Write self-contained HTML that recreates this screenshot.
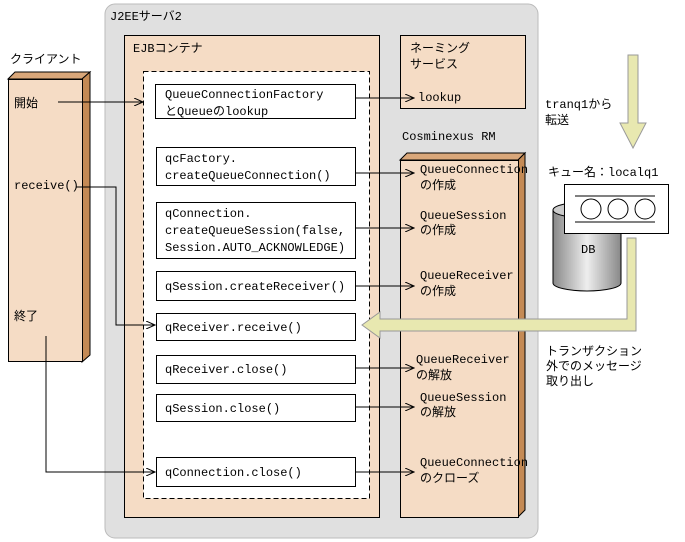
<!DOCTYPE html>
<html><head><meta charset="utf-8"><style>body{margin:0;background:#fff}svg{display:block}text{font-family:"Liberation Mono","Noto Sans CJK JP",monospace;font-size:12px;fill:#000}</style></head><body>
<svg width="685" height="542" viewBox="0 0 685 542" xmlns="http://www.w3.org/2000/svg">
<defs>
<linearGradient id="cyl" x1="0" x2="1"><stop offset="0" stop-color="#888"/><stop offset="0.5" stop-color="#eee"/><stop offset="1" stop-color="#888"/></linearGradient>
<marker id="ar" markerWidth="10" markerHeight="8" refX="9" refY="4" orient="auto" markerUnits="userSpaceOnUse"><path d="M0,0 L9,4 L0,8" fill="none" stroke="#000"/></marker>
</defs>
<rect x="105" y="4" width="433" height="534" rx="10" fill="#e0e0e0" stroke="#bbb"/>
<text x="110" y="20">J2EEサーバ2</text>
<rect x="124.5" y="35.5" width="255" height="482" fill="#f5dcc5" stroke="#000"/>
<text x="133" y="52">EJBコンテナ</text>
<rect x="143.5" y="71.5" width="226" height="427" fill="#fff" stroke="#000" stroke-dasharray="5,3"/>
<rect x="400.5" y="35.5" width="125" height="73" fill="#f5dcc5" stroke="#000"/>
<text x="410" y="52">ネーミング</text><text x="410" y="68">サービス</text>
<text x="402" y="140">Cosminexus RM</text>
<polygon points="400,160 407,153 525,153 518,160" fill="#d9a77a" stroke="#000"/>
<polygon points="518,160 525,153 525,510 518,517" fill="#c48a55" stroke="#000"/>
<rect x="400.5" y="160.5" width="118" height="357" fill="#f5dcc5" stroke="#000"/>
<text x="10" y="63">クライアント</text>
<polygon points="8,79 15,72 90,72 82,79" fill="#d9a77a" stroke="#000"/>
<polygon points="82,79 90,72 90,355 82,362" fill="#c48a55" stroke="#000"/>
<rect x="8.5" y="79.5" width="74" height="282" fill="#f5dcc5" stroke="#000"/>
<text x="14" y="107">開始</text><text x="14" y="189">receive()</text><text x="14" y="320">終了</text>
<g fill="#fff" stroke="#000">
<rect x="155.5" y="84.5" width="200" height="34"/><rect x="156.5" y="147.5" width="199" height="38"/>
<rect x="156.5" y="202.5" width="199" height="56"/><rect x="156.5" y="271.5" width="199" height="29"/>
<rect x="156.5" y="313.5" width="199" height="27"/><rect x="156.5" y="355.5" width="199" height="28"/>
<rect x="156.5" y="394.5" width="199" height="27"/><rect x="156.5" y="457.5" width="199" height="29"/>
</g>
<text x="165" y="98">QueueConnectionFactory</text><text x="165" y="115">とQueueのlookup</text>
<text x="165" y="162">qcFactory.</text><text x="165" y="179">createQueueConnection()</text>
<text x="165" y="217">qConnection.</text><text x="165" y="234">createQueueSession(false,</text><text x="165" y="251">Session.AUTO_ACKNOWLEDGE)</text>
<text x="165" y="290">qSession.createReceiver()</text>
<text x="165" y="331">qReceiver.receive()</text>
<text x="165" y="373">qReceiver.close()</text>
<text x="165" y="412">qSession.close()</text>
<text x="165" y="476">qConnection.close()</text>
<g stroke="#000" fill="none" marker-end="url(#ar)">
<path d="M58,102 H143"/>
<path d="M76,187 H116 V325 H155"/>
<path d="M46,336 V472 H155"/>
<path d="M355,98 H414"/>
<path d="M355,173 H414"/>
<path d="M355,228 H414"/>
<path d="M355,286 H414"/>
<path d="M355,368 H414"/>
<path d="M355,407 H414"/>
<path d="M355,472 H414"/>
</g>
<text x="418" y="101">lookup</text>
<g font-size="11"><text x="420" y="173">QueueConnection</text><text x="420" y="189">の作成</text>
<text x="420" y="219">QueueSession</text><text x="420" y="234">の作成</text>
<text x="420" y="279">QueueReceiver</text><text x="420" y="295">の作成</text>
<text x="416" y="363">QueueReceiver</text><text x="416" y="379">の解放</text>
<text x="420" y="401">QueueSession</text><text x="420" y="416">の解放</text>
<text x="420" y="466">QueueConnection</text><text x="420" y="482">のクローズ</text></g>
<text x="545" y="108">tranq1から</text><text x="545" y="124">転送</text>
<polygon points="628,55 638,55 638,123 646,123 633,148 620,123 628,123" fill="#e8e8b0" stroke="#999"/>
<text x="548" y="176">キュー名：localq1</text>
<path d="M553,210 V283 A34,8 0 0 0 621,283 V210" fill="url(#cyl)" stroke="#000"/>
<ellipse cx="587" cy="210" rx="34" ry="8" fill="#ccc" stroke="#000"/>
<text x="581" y="253">DB</text>
<rect x="564.5" y="184.5" width="104" height="49" fill="#fff" stroke="#000"/>
<path d="M575,196 H655 M575,222 H655" stroke="#000"/>
<circle cx="591" cy="209" r="10" fill="#fff" stroke="#000"/><circle cx="618" cy="209" r="10" fill="#fff" stroke="#000"/><circle cx="645" cy="209" r="10" fill="#fff" stroke="#000"/>
<polygon points="627,238 636,238 636,331 380,331 380,338 362,325 380,312 380,319 627,319" fill="#e8e8b0" stroke="#999"/>
<text x="546" y="355">トランザクション</text><text x="546" y="370">外でのメッセージ</text><text x="546" y="385">取り出し</text>
</svg>
</body></html>
